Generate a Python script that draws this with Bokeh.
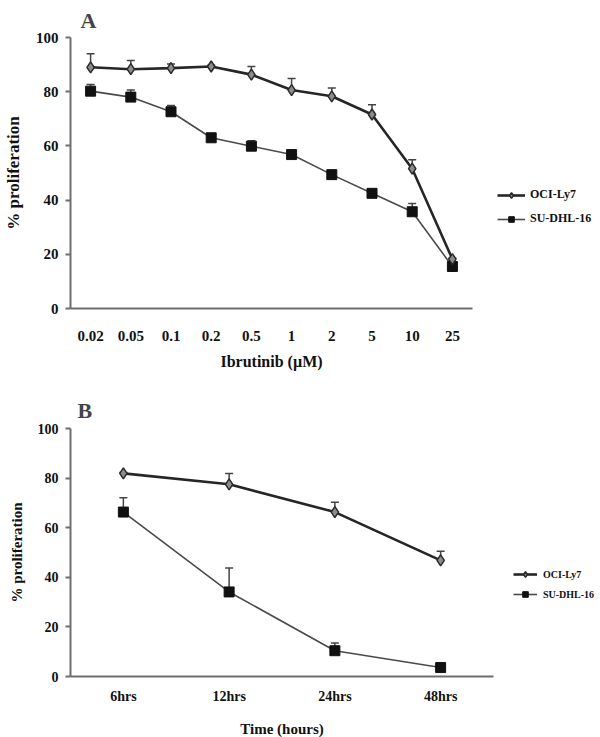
from bokeh.plotting import figure
from bokeh.models import (ColumnDataSource, Whisker, TeeHead, Legend, LegendItem,
                          Title, FactorRange, Range1d, FixedTicker)
from bokeh.layouts import column
from bokeh.embed import file_html
from bokeh.resources import INLINE

# ---- Panel A data ----
doses = ["0.02", "0.05", "0.1", "0.2", "0.5", "1", "2", "5", "10", "25"]
a_oci = [89.0, 88.3, 88.7, 89.3, 86.3, 80.6, 78.3, 71.6, 51.6, 18.2]
a_oci_err = [94.0, 91.5, 90.2, 89.8, 89.3, 84.9, 81.4, 75.2, 54.9, 18.6]
a_su = [80.2, 78.0, 72.6, 63.0, 59.9, 56.8, 49.4, 42.5, 35.7, 15.5]
a_su_err = [82.7, 80.6, 74.9, 63.4, 61.9, 57.2, 49.8, 42.9, 38.7, 15.9]

# ---- Panel B data ----
times = ["6hrs", "12hrs", "24hrs", "48hrs"]
b_oci = [81.9, 77.5, 66.3, 46.8]
b_oci_err = [82.3, 81.9, 70.3, 50.5]
b_su = [66.3, 34.1, 10.4, 3.6]
b_su_err = [72.1, 43.7, 13.5, 4.0]

series_names = ["OCI-Ly7", "SU-DHL-16"]
yticks = [0, 20, 40, 60, 80, 100]

FONT = "Liberation Serif"


def make_panel(letter, cats, oci, oci_err, su, su_err, xlabel,
               fw, fh, bl, bt, bb, height, tick_size, ylab_size, xlab_size,
               leg_size, leg_loc, leg_glyph, leg_standoff, leg_spacing,
               title_offset, title_standoff, xtick_standoff, xlab_standoff):
    p = figure(x_range=FactorRange(factors=cats), y_range=Range1d(0, 100),
               width=584, height=height, frame_width=fw, frame_height=fh,
               min_border_left=bl, min_border_top=bt, min_border_bottom=bb,
               min_border_right=584 - bl - fw,
               output_backend="svg", toolbar_location=None, title=None)
    p.add_layout(Title(text=letter, text_font=FONT, text_font_size="22px",
                       text_font_style="bold", align="left", offset=title_offset,
                       standoff=title_standoff), "above")
    p.outline_line_color = None
    p.xgrid.grid_line_color = None
    p.ygrid.grid_line_color = None
    p.background_fill_color = "white"
    p.border_fill_color = "white"

    for ax in (p.xaxis[0], p.yaxis[0]):
        ax.axis_line_color = "#6e6e6e"
        ax.axis_line_width = 2
        ax.major_label_text_font = FONT
        ax.major_label_text_font_style = "bold"
        ax.major_label_text_font_size = tick_size
        ax.major_label_text_color = "#111111"
        ax.axis_label_text_font = FONT
        ax.axis_label_text_font_style = "bold"
        ax.axis_label_text_color = "#111111"
        ax.minor_tick_line_color = None
    p.xaxis.major_tick_line_color = None
    p.xaxis.major_tick_out = 0
    p.xaxis.major_label_standoff = xtick_standoff
    p.xaxis.axis_label = xlabel
    p.xaxis.axis_label_text_font_size = xlab_size
    p.xaxis.axis_label_standoff = xlab_standoff
    p.yaxis.ticker = FixedTicker(ticks=yticks)
    p.yaxis.major_tick_in = 0
    p.yaxis.major_tick_out = 5
    p.yaxis.major_tick_line_color = "#6e6e6e"
    p.yaxis.major_tick_line_width = 2
    p.yaxis.major_label_standoff = 7
    p.yaxis.axis_label = "% proliferation"
    p.yaxis.axis_label_text_font_size = ylab_size
    p.yaxis.axis_label_standoff = 10

    src_oci = ColumnDataSource(dict(x=cats, y=oci, err=oci_err))
    src_su = ColumnDataSource(dict(x=cats, y=su, err=su_err))

    for src in (src_oci, src_su):
        w = Whisker(source=src, base="x", lower="y", upper="err",
                    line_color="#444444", line_width=1.5, lower_head=None,
                    upper_head=TeeHead(size=8, line_color="#444444", line_width=1.5))
        p.add_layout(w)

    l_su = p.line("x", "y", source=src_su, line_color="#4a4a4a", line_width=1.6)
    m_su = p.scatter("x", "y", source=src_su, marker="square", size=10,
                     fill_color="#111111", line_color="#111111")
    l_oci = p.line("x", "y", source=src_oci, line_color="#262626", line_width=2.6)
    m_oci = p.scatter("x", "y", source=src_oci, marker="diamond", size=11,
                      fill_color="#8c8c8c", line_color="#2a2a2a", line_width=1.5)

    legend = Legend(items=[LegendItem(label=series_names[0], renderers=[l_oci, m_oci]),
                           LegendItem(label=series_names[1], renderers=[l_su, m_su])],
                    location=leg_loc, orientation="vertical",
                    label_text_font=FONT, label_text_font_style="bold",
                    label_text_font_size=leg_size, label_text_color="#111111",
                    glyph_width=leg_glyph, glyph_height=14, label_standoff=leg_standoff,
                    spacing=leg_spacing, padding=0, margin=0, border_line_color=None,
                    background_fill_alpha=0)
    p.add_layout(legend, "right")
    return p


pa = make_panel("A", doses, a_oci, a_oci_err, a_su, a_su_err, "Ibrutinib (\u00b5M)",
                fw=402, fh=271, bl=58, bt=32, bb=62, height=365,
                tick_size="15px", ylab_size="17px", xlab_size="16px",
                leg_size="12px", leg_loc=(25, 82), leg_glyph=28, leg_standoff=5,
                leg_spacing=9, title_offset=10, title_standoff=10,
                xtick_standoff=22, xlab_standoff=9)
pb = make_panel("B", times, b_oci, b_oci_err, b_su, b_su_err, "Time (hours)",
                fw=423, fh=248, bl=57, bt=56, bb=52, height=356,
                tick_size="14px", ylab_size="15px", xlab_size="15px",
                leg_size="10px", leg_loc=(20, 75), leg_glyph=24, leg_standoff=6,
                leg_spacing=6, title_offset=7, title_standoff=12,
                xtick_standoff=12, xlab_standoff=14)

layout = column(pa, pb, spacing=0)
open("out.html", "w").write(file_html(layout, INLINE))
